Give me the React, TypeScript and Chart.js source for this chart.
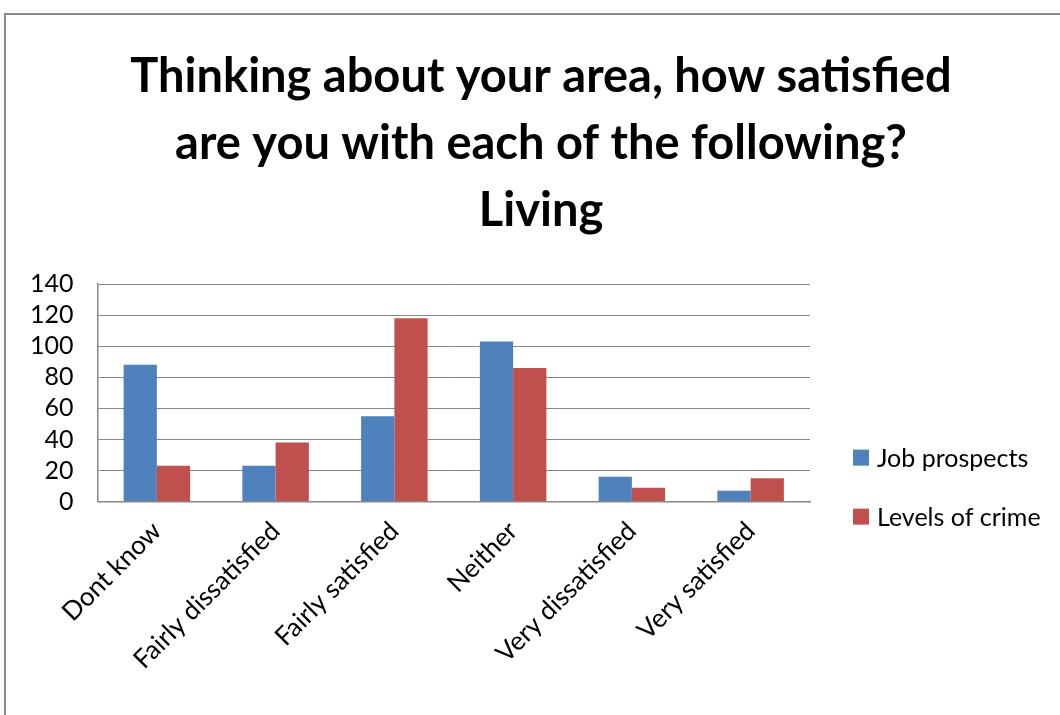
import React, { useEffect, useRef } from "react";
import { Chart, registerables } from "chart.js";

Chart.register(...registerables);

const categories = [
  "Dont know",
  "Fairly dissatisfied",
  "Fairly satisfied",
  "Neither",
  "Very dissatisfied",
  "Very satisfied",
];
const jobProspects = [88, 23, 55, 103, 16, 7];
const levelsOfCrime = [23, 38, 118, 86, 9, 15];
const seriesNames = ["Job prospects", "Levels of crime"];
const seriesColors = ["#4F81BD", "#C0504D"];
const titleLines = [
  "Thinking about your area, how satisfied",
  "are you with each of the following?",
  "Living",
];
const yMin = 0;
const yMax = 140;
const yStep = 20;

const FONT = "Lato";
const GRID = "#878787";

const sideLegend = {
  id: "sideLegend",
  afterDraw(chart: any) {
    const { ctx, chartArea } = chart;
    const x = chartArea.right + 43;
    const ys = [chartArea.bottom - 44, chartArea.bottom + 15];
    ctx.save();
    ctx.font = `25px ${FONT}`;
    ctx.textBaseline = "middle";
    ctx.textAlign = "left";
    chart.data.datasets.forEach((ds: any, i: number) => {
      ctx.fillStyle = ds.backgroundColor;
      ctx.fillRect(x, ys[i] - 8, 16, 16);
      ctx.fillStyle = "#000";
      ctx.fillText(ds.label, x + 24, ys[i] + 1);
    });
    ctx.restore();
  },
};

export default function App() {
  const ref = useRef<HTMLCanvasElement | null>(null);

  useEffect(() => {
    if (!ref.current) return;
    const chart = new Chart(ref.current, {
      type: "bar",
      data: {
        labels: categories,
        datasets: [
          {
            label: seriesNames[0],
            data: jobProspects,
            backgroundColor: seriesColors[0],
            categoryPercentage: 0.56,
            barPercentage: 1,
          },
          {
            label: seriesNames[1],
            data: levelsOfCrime,
            backgroundColor: seriesColors[1],
            categoryPercentage: 0.56,
            barPercentage: 1,
          },
        ],
      },
      options: {
        animation: false,
        responsive: false,
        layout: { padding: { left: 6, right: -16, top: 0, bottom: 26 } },
        plugins: {
          legend: { display: false },
          tooltip: { enabled: false },
          title: {
            display: true,
            text: titleLines,
            color: "#000",
            font: { family: FONT, size: 47, weight: "bold", lineHeight: 67 / 47 },
            padding: { top: 43, bottom: 40 },
          },
        },
        scales: {
          x: {
            grid: { display: false, drawTicks: false },
            border: { display: true, color: GRID, width: 1.5 },
            ticks: {
              color: "#000",
              font: { family: FONT, size: 26 },
              minRotation: 45,
              maxRotation: 45,
              autoSkip: false,
              padding: 14,
            },
          },
          y: {
            min: yMin,
            max: yMax,
            grid: { color: GRID, lineWidth: 1, drawTicks: false },
            border: { display: true, color: GRID, width: 1.5 },
            ticks: {
              stepSize: yStep,
              autoSkip: false,
              color: "#000",
              font: { family: FONT, size: 25 },
              padding: 24,
            },
          },
          legendSpace: {
            type: "linear",
            position: "right",
            display: true,
            grid: { display: false, drawTicks: false },
            border: { display: false },
            ticks: { display: false },
            afterFit: (s: any) => {
              s.width = 266;
            },
          },
        },
      },
      plugins: [sideLegend],
    } as any);
    return () => chart.destroy();
  }, []);

  return (
    <div
      style={{
        position: "absolute",
        left: 0,
        top: 0,
        width: 1060,
        height: 715,
        overflow: "hidden",
        background: "#fff",
      }}
    >
      <div
        style={{
          position: "absolute",
          left: 4,
          top: 13,
          width: 1100,
          height: 800,
          border: "2px solid #898989",
          boxSizing: "border-box",
        }}
      />
      <canvas
        ref={ref}
        width={1060}
        height={715}
        style={{ position: "absolute", left: 0, top: 0 }}
      />
    </div>
  );
}
